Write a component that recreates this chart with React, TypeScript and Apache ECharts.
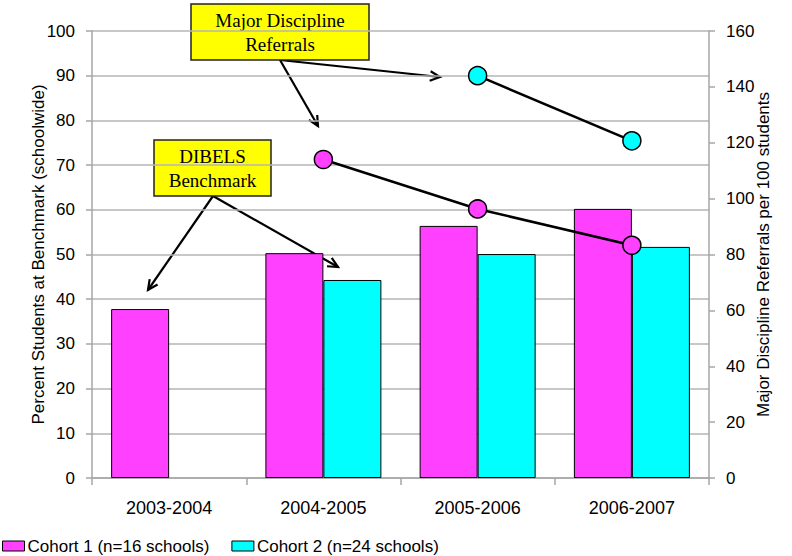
import React, { useEffect, useRef } from "react";
import * as echarts from "echarts";

// School years on the category axis
const years = ["2003-2004", "2004-2005", "2005-2006", "2006-2007"];

// Percent of students at DIBELS benchmark (left axis)
const cohort1Benchmark = [37.8, 50.3, 56.4, 60.2];
const cohort2Benchmark = [null, 44.3, 50.1, 51.7];

// Major discipline referrals per 100 students (right axis)
const cohort1Referrals = [null, 114, 96.3, 83.3];
const cohort2Referrals = [null, null, 144, 120.7];

const cohort1Name = "Cohort 1 (n=16 schools)";
const cohort2Name = "Cohort 2 (n=24 schools)";

const leftTicks = { min: 0, max: 100, interval: 10 };
const rightTicks = { min: 0, max: 160, interval: 20 };

const PINK = "#FF40FF";
const CYAN = "#00FFFF";
const GRID_GRAY = "#b4b4b4";
const SANS = "'Liberation Sans', Arial, sans-serif";
const SERIF = "'Liberation Serif', 'Times New Roman', serif";

// Straight arrow with an open V head, built from plain line elements
function arrow(x1: number, y1: number, x2: number, y2: number) {
  const ang = Math.atan2(y2 - y1, x2 - x1);
  const head = 11;
  const spread = Math.PI / 7;
  const style = { stroke: "#000", lineWidth: 2.2 };
  return {
    type: "group",
    silent: true,
    children: [
      { type: "line", shape: { x1, y1, x2, y2 }, style },
      {
        type: "polyline",
        shape: {
          points: [
            [x2 - head * Math.cos(ang - spread), y2 - head * Math.sin(ang - spread)],
            [x2, y2],
            [x2 - head * Math.cos(ang + spread), y2 - head * Math.sin(ang + spread)],
          ],
        },
        style: { ...style, fill: null },
      },
    ],
  };
}

function callout(x: number, y: number, w: number, h: number, text: string) {
  return {
    type: "group",
    silent: true,
    children: [
      {
        type: "rect",
        shape: { x, y, width: w, height: h },
        style: { fill: "#FFFF00", stroke: "#222", lineWidth: 1.5 },
      },
      {
        type: "text",
        x: x + w / 2,
        y: y + h / 2,
        style: {
          text,
          font: `19px ${SERIF}`,
          fill: "#000",
          align: "center",
          verticalAlign: "middle",
          lineHeight: 24,
        },
      },
    ],
  };
}

export default function App() {
  const ref = useRef<HTMLDivElement>(null);

  useEffect(() => {
    if (!ref.current) return;
    const chart = echarts.init(ref.current, null, { renderer: "svg" });

    const axisLabel = { color: "#000", fontSize: 17, fontFamily: SANS };
    const axisName = { color: "#000", fontSize: 17, fontFamily: SANS };

    chart.setOption({
      animation: false,
      backgroundColor: "#fff",
      grid: { left: 92, right: 83, top: 31, bottom: 78, containLabel: false },
      legend: {
        data: [cohort1Name, cohort2Name],
        left: 2,
        top: 537,
        padding: 0,
        icon: "rect",
        itemWidth: 22,
        itemHeight: 10,
        itemGap: 22,
        textStyle: {
          color: "#000",
          fontSize: 17,
          lineHeight: 18,
          fontFamily: SANS,
          padding: [0, 0, 0, -2],
        },
        itemStyle: { borderColor: "#000", borderWidth: 1 },
      },
      xAxis: {
        type: "category",
        data: years,
        axisLine: { lineStyle: { color: "#a6a6a6", width: 1.5 } },
        axisTick: { show: true, length: 7, lineStyle: { color: "#a6a6a6", width: 1.5 } },
        axisLabel: { ...axisLabel, fontSize: 18, margin: 21 },
      },
      yAxis: [
        {
          type: "value",
          ...leftTicks,
          name: "Percent Students at Benchmark (schoolwide)",
          nameLocation: "middle",
          nameGap: 45,
          nameMoveOverlap: false,
          nameTextStyle: axisName,
          axisLine: { show: true, lineStyle: { color: "#a6a6a6", width: 1.5 } },
          axisTick: { show: true, length: 6, lineStyle: { color: "#a6a6a6", width: 1.5 } },
          axisLabel: { ...axisLabel, margin: 17 },
          splitLine: { lineStyle: { color: GRID_GRAY, width: 1.5 } },
        },
        {
          type: "value",
          ...rightTicks,
          position: "right",
          name: "Major Discipline Referrals per 100 students",
          nameLocation: "middle",
          nameGap: 46,
          nameRotate: 90,
          nameMoveOverlap: false,
          nameTextStyle: axisName,
          axisLine: { show: true, lineStyle: { color: "#a6a6a6", width: 1.5 } },
          axisTick: { show: true, length: 6, lineStyle: { color: "#a6a6a6", width: 1.5 } },
          axisLabel: { ...axisLabel, margin: 17 },
          splitLine: { show: false },
        },
      ],
      series: [
        {
          name: cohort1Name,
          type: "bar",
          data: cohort1Benchmark,
          barWidth: 58,
          barGap: "0%",
          itemStyle: { color: PINK, borderColor: "#000", borderWidth: 1 },
        },
        {
          name: cohort2Name,
          type: "bar",
          data: cohort2Benchmark,
          barWidth: 58,
          barGap: "0%",
          itemStyle: { color: CYAN, borderColor: "#000", borderWidth: 1 },
        },
        {
          name: "Cohort 1 referrals",
          type: "line",
          yAxisIndex: 1,
          data: cohort1Referrals,
          symbol: "circle",
          symbolSize: 18,
          lineStyle: { color: "#000", width: 2.5 },
          itemStyle: { color: PINK, borderColor: "#000", borderWidth: 1.5 },
          z: 5,
        },
        {
          name: "Cohort 2 referrals",
          type: "line",
          yAxisIndex: 1,
          data: cohort2Referrals,
          symbol: "circle",
          symbolSize: 18,
          lineStyle: { color: "#000", width: 2.5 },
          itemStyle: { color: CYAN, borderColor: "#000", borderWidth: 1.5 },
          z: 5,
        },
      ],
      graphic: [
        arrow(280, 60, 440, 77),
        arrow(280, 60, 318, 126),
        arrow(213, 196, 148, 290),
        arrow(213, 196, 338, 267),
        callout(191, 4, 178, 56, "Major Discipline\nReferrals"),
        callout(154, 140, 117, 56, "DIBELS\nBenchmark"),
      ],
    });

    return () => chart.dispose();
  }, []);

  return <div ref={ref} style={{ width: 792, height: 556, position: "absolute", left: 0, top: 0 }} />;
}
